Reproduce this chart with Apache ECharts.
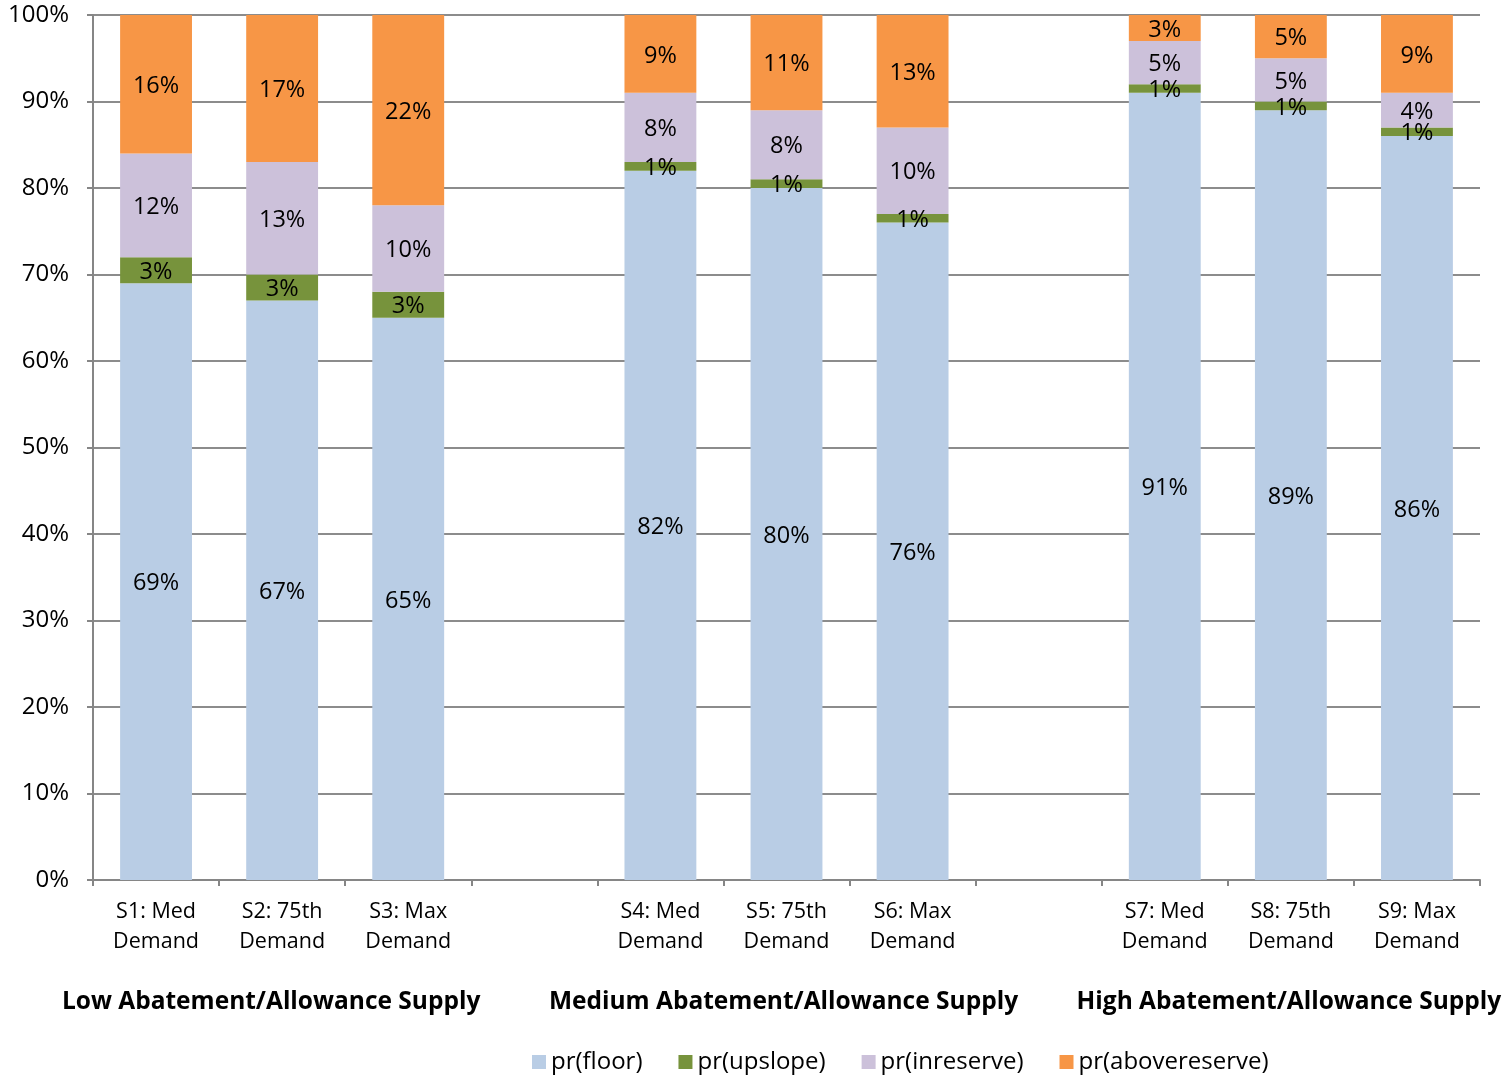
<!DOCTYPE html>
<html>
<head>
<meta charset="utf-8">
<script src="https://cdn.jsdelivr.net/npm/echarts@6/dist/echarts.min.js"></script>
<style>
  html, body { margin: 0; padding: 0; background: #fff; }
  #chart { width: 1506px; height: 1075px; }
</style>
</head>
<body>
<div id="chart"></div>
<script>
// Scenario categories; empty strings are spacer slots between the three supply groups
const categories = [
  'S1: Med\nDemand', 'S2: 75th\nDemand', 'S3: Max\nDemand', '',
  'S4: Med\nDemand', 'S5: 75th\nDemand', 'S6: Max\nDemand', '',
  'S7: Med\nDemand', 'S8: 75th\nDemand', 'S9: Max\nDemand'
];
// Group titles, placed under the middle scenario of each group
const groupLabels = ['', 'Low Abatement/Allowance Supply', '', '', '', 'Medium Abatement/Allowance Supply', '', '', '', 'High Abatement/Allowance Supply', ''];

const seriesNames = ['pr(floor)', 'pr(upslope)', 'pr(inreserve)', 'pr(abovereserve)'];
// Probabilities in percent
const prFloor        = [69, 67, 65, null, 82, 80, 76, null, 91, 89, 86];
const prUpslope      = [3, 3, 3, null, 1, 1, 1, null, 1, 1, 1];
const prInreserve    = [12, 13, 10, null, 8, 8, 10, null, 5, 5, 4];
const prAbovereserve = [16, 17, 22, null, 9, 11, 13, null, 3, 5, 9];

const yTicks = [0, 10, 20, 30, 40, 50, 60, 70, 80, 90, 100];

const colors = ['#B9CDE5', '#77933C', '#CCC1DA', '#F79646'];
const font = '"Open Sans", "Noto Sans", sans-serif';

const chart = echarts.init(document.getElementById('chart'), null, { renderer: 'canvas' });

const makeSeries = (name, data, color) => ({
  name: name,
  type: 'bar',
  stack: 'total',
  data: data,
  barWidth: '57%',
  itemStyle: { color: color },
  label: {
    show: true,
    position: 'inside',
    offset: [0, 2],
    formatter: p => (p.value == null ? '' : p.value + '%'),
    color: '#000',
    fontFamily: font,
    fontSize: 23.5
  },
  emphasis: { disabled: true }
});

const groupTextStyle = { color: '#000', fontFamily: font, fontSize: 24.5, fontWeight: 'bold' };

chart.setOption({
  animation: false,
  color: colors,
  grid: { left: 93, right: 26, top: 15, bottom: 195, containLabel: false },
  legend: {
    data: seriesNames,
    top: 1045,
    left: 527,
    icon: 'rect',
    itemWidth: 14,
    itemHeight: 14,
    itemGap: 36,
    textStyle: { fontFamily: font, fontSize: 24, color: '#000' }
  },
  xAxis: [
    {
      type: 'category',
      data: categories,
      axisLine: { lineStyle: { color: '#868686', width: 2 } },
      axisTick: { show: true, length: 6, lineStyle: { color: '#868686', width: 2 } },
      axisLabel: {
        interval: 0,
        margin: 17,
        color: '#000',
        fontFamily: font,
        fontSize: 21.5,
        lineHeight: 30
      }
    },
    {
      type: 'category',
      position: 'bottom',
      data: groupLabels,
      axisLine: { show: false },
      axisTick: { show: false },
      axisLabel: {
        interval: 0,
        margin: 110,
        formatter: (v, i) => {
          if (!v) return '';
          const key = i === 1 ? 'low' : (i === 5 ? 'mid' : 'high');
          return '{' + key + '|' + v + '}';
        },
        rich: {
          low: Object.assign({ padding: [0, 22, 0, 0] }, groupTextStyle),
          mid: Object.assign({ padding: [0, 6, 0, 0] }, groupTextStyle),
          high: Object.assign({ padding: [0, 4, 0, 0] }, groupTextStyle)
        },
        ...groupTextStyle
      }
    }
  ],
  yAxis: {
    type: 'value',
    min: yTicks[0],
    max: yTicks[yTicks.length - 1],
    interval: 10,
    axisLine: { show: true, lineStyle: { color: '#868686', width: 2 } },
    axisTick: { show: true, length: 6, lineStyle: { color: '#868686', width: 2 } },
    splitLine: { lineStyle: { color: '#8C8C8C', width: 2 } },
    axisLabel: {
      margin: 24,
      formatter: '{value}%',
      color: '#000',
      fontFamily: font,
      fontSize: 24
    }
  },
  series: [
    makeSeries(seriesNames[0], prFloor, colors[0]),
    makeSeries(seriesNames[1], prUpslope, colors[1]),
    makeSeries(seriesNames[2], prInreserve, colors[2]),
    makeSeries(seriesNames[3], prAbovereserve, colors[3])
  ]
});
</script>
</body>
</html>
